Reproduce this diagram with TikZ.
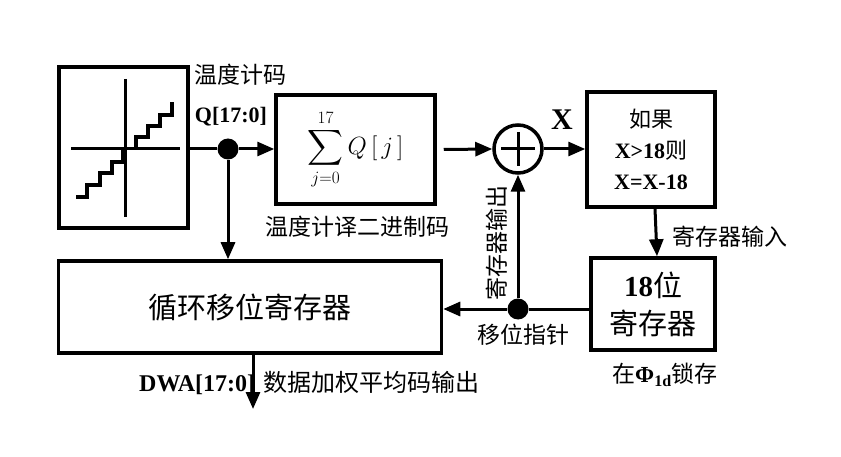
\documentclass[tikz,border=0pt]{standalone}
\usepackage{amsmath}
\usepackage{fontspec}
\setmainfont{Liberation Serif}
\newfontfamily\cjk{Noto Sans CJK SC}
\usetikzlibrary{arrows.meta, positioning, calc}
\tikzset{
  blk/.style  = {rectangle, draw, line width=3.5pt, inner sep=0pt, align=center},
  arr/.style  = {-{Triangle[length=17pt,width=14pt]}, line width=3pt},
  wire/.style = {line width=3pt},
  dot/.style  = {circle, fill, inner sep=0pt, minimum size=21pt},
  zh/.style   = {font=\cjk\fontsize{23}{28}\selectfont, inner sep=1pt},
  en/.style   = {font=\bfseries\fontsize{22}{28}\selectfont, inner sep=1pt},
}

\begin{document}
\begin{tikzpicture}[x=1pt, y=-1pt]
  \useasboundingbox (0,0) rectangle (841,457);

  % Blocks
  \node[blk, minimum width=129pt, minimum height=161pt] (stairs) at (123.5,147.5) {};
  \node[blk, minimum width=159pt, minimum height=109pt] (sum) at (355.5,149.5)
    {\fontsize{26}{30}\selectfont$\displaystyle\sum_{j=0}^{17} Q\,[\,j\,]$};
  \node[circle, draw, line width=3.5pt, minimum size=48pt, inner sep=0pt] (add) at (518,149) {};
  \node[blk, minimum width=128pt, minimum height=115pt,
        font=\fontsize{22}{31}\selectfont] (ifbox) at (651,149.5)
    {{\cjk 如果}\\{\bfseries X>18}{\cjk 则}\\{\bfseries X=X-18}};
  \node[blk, minimum width=124pt, minimum height=92pt,
        font=\fontsize{29}{38}\selectfont] (reg) at (653,304)
    {{\bfseries 18}{\cjk 位}\\{\cjk 寄存器}};
  \node[blk, minimum width=383pt, minimum height=92pt,
        font=\cjk\fontsize{29}{34}\selectfont] (shift) at (250,307) {循环移位寄存器};

  % Staircase inside the first block
  \draw[wire] (125,79) -- (125,217);
  \draw[wire] (71,149) -- (180,149);
  \draw[line width=3.5pt] (76,197) -- (87,197) -- (87,185) -- (100,185) -- (100,173)
    -- (112,173) -- (112,162) -- (123,162) -- (123,149);
  \draw[line width=3.5pt] (136,149) -- (136,137) -- (148,137) -- (148,126) -- (160,126)
    -- (160,115) -- (172,115) -- (172,102);

  % Adder sign
  \draw[wire] ($(add.center)+(-17,0)$) -- ($(add.center)+(17,0)$);
  \draw[wire] ($(add.center)+(0,-17)$) -- ($(add.center)+(0,17)$);

  % Junctions
  \node[dot] (j1) at (228,149) {};
  \node[dot] (j2) at (518,309) {};
  \coordinate (out) at (253,409);

  % Connectors
  \draw[wire] (stairs.east |- j1) -- (j1);
  \draw[arr] (j1) -- (sum.west |- j1);
  \draw[arr] (j1) -- (shift.north -| j1);
  \draw[arr] ([xshift=7pt]sum.east) -- (add.west);
  \draw[arr] (add.east) -- (ifbox.west |- add);
  \draw[arr] ([xshift=4pt]ifbox.south) -- ([xshift=4pt]reg.north);
  \draw[wire] (reg.west |- j2) -- (j2);
  \draw[arr] (j2) -- (shift.east |- j2);
  \draw[arr] (j2) -- (add.south);

  % Labels
  \node[zh] (lblcode) at (240,75) {温度计码};
  \node[en] (lblq) at (231,117) {Q[17:0]};
  \node[font=\bfseries\fontsize{30}{32}\selectfont, inner sep=1pt] (lblx) at (562,120) {X};
  \node[zh] (lblbin) at (357,227) {温度计译二进制码};
  \node[zh] (lblin) at (730,237) {寄存器输入};
  \node[zh, rotate=90] (lblregout) at (497,243) {寄存器输出};
  \node[zh] (lblptr) at (523,335) {移位指针};
  \node[font=\fontsize{23}{28}\selectfont, inner sep=1pt] (lbllatch) at (665,375)
    {{\cjk 在}{\bfseries Φ\textsubscript{1d}}{\cjk 锁存}};
  \node[anchor=west, inner sep=0pt, font=\fontsize{24}{28}\selectfont] (lbldwa) at (139,383)
    {{\bfseries DWA[17:0]}\hspace{8pt}{\cjk 数据加权平均码输出}};

  % Output
  \draw[arr] (shift.south -| out) -- (out);
\end{tikzpicture}
\end{document}
